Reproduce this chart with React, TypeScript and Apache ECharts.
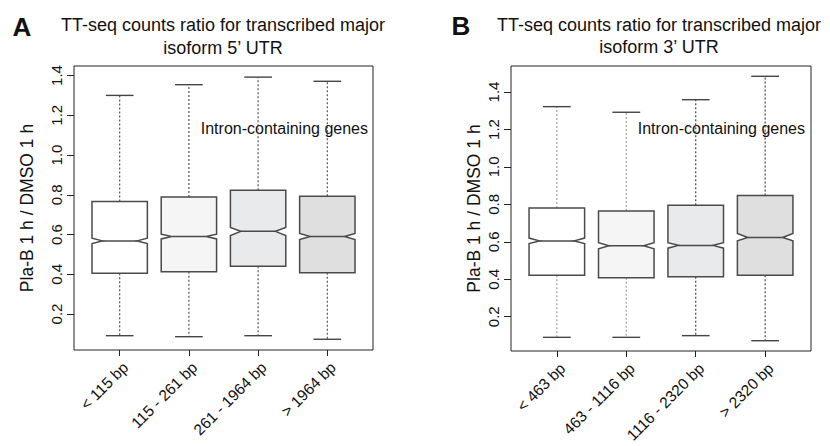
import React, { useEffect, useRef } from "react";
import * as echarts from "echarts";

// Panel A: 5' UTR length classes
const catsA = ["< 115 bp", "115 - 261 bp", "261 - 1964 bp", "> 1964 bp"];
const lowA = [0.091, 0.086, 0.091, 0.073];
const q1A = [0.405, 0.413, 0.441, 0.408];
const notchLoA = [0.555, 0.578, 0.595, 0.575];
const medA = [0.568, 0.59, 0.616, 0.59];
const notchHiA = [0.582, 0.602, 0.636, 0.605];
const q3A = [0.766, 0.789, 0.823, 0.793];
const highA = [1.3, 1.354, 1.392, 1.371];

// Panel B: 3' UTR length classes
const catsB = ["< 463 bp", "463 - 1116 bp", "1116 - 2320 bp", "> 2320 bp"];
const lowB = [0.09, 0.09, 0.099, 0.072];
const q1B = [0.421, 0.408, 0.413, 0.421];
const notchLoB = [0.591, 0.563, 0.566, 0.605];
const medB = [0.605, 0.579, 0.581, 0.623];
const notchHiB = [0.62, 0.595, 0.595, 0.645];
const q3B = [0.781, 0.764, 0.796, 0.847];
const highB = [1.322, 1.292, 1.359, 1.484];

const yTicks = [0.2, 0.4, 0.6, 0.8, 1.0, 1.2, 1.4];
const xTicks = [1, 2, 3, 4];

const titleA = ["TT-seq counts ratio for transcribed major", "isoform 5\u2019 UTR"];
const titleB = ["TT-seq counts ratio for transcribed major", "isoform 3\u2019 UTR"];
const yName = "Pla-B 1 h / DMSO 1 h";
const note = "Intron-containing genes";

// styles
const fills = ["#ffffff", "#f4f5f4", "#e9eaeb", "#dedfde"];
const whiskerColA = ["#555555", "#555555", "#555555", "#555555"];
const whiskerColB = ["#a0a0a0", "#a0a0a0", "#444444", "#444444"];
const FONT = "Liberation Sans, Arial, Helvetica, sans-serif";

function buildRows(low: number[], q1: number[], nlo: number[], med: number[], nhi: number[], q3: number[], high: number[]) {
  return low.map((_, i) => [i + 1, low[i], q1[i], nlo[i], med[i], nhi[i], q3[i], high[i]]);
}

function makeRender(whiskerCols: string[]) {
  return (params: any, api: any) => {
    const x = api.value(0);
    const low = api.value(1), q1 = api.value(2), nlo = api.value(3), med = api.value(4);
    const nhi = api.value(5), q3 = api.value(6), high = api.value(7);
    const hw = 0.4, inset = 0.15, cap = 0.2;
    const P = (xx: number, yy: number) => api.coord([xx, yy]);
    const i = params.dataIndex;
    const stroke = "#4a4a4a";
    const wc = whiskerCols[i];
    const xc = P(x, 0)[0];
    const line = (a: number[], b: number[], style: any) => ({
      type: "line",
      shape: { x1: a[0], y1: a[1], x2: b[0], y2: b[1] },
      style,
    });
    const dotted = { stroke: wc, lineWidth: 1.2, lineDash: [2, 2] };
    const capStyle = { stroke: "#444444", lineWidth: 1.4 };
    const pts = [
      P(x - hw, q3), P(x + hw, q3), P(x + hw, nhi), P(x + hw - inset, med), P(x + hw, nlo),
      P(x + hw, q1), P(x - hw, q1), P(x - hw, nlo), P(x - hw + inset, med), P(x - hw, nhi),
    ];
    return {
      type: "group",
      children: [
        line([xc, P(x, q3)[1]], [xc, P(x, high)[1]], dotted),
        line([xc, P(x, q1)[1]], [xc, P(x, low)[1]], dotted),
        line(P(x - cap, high), P(x + cap, high), capStyle),
        line(P(x - cap, low), P(x + cap, low), capStyle),
        { type: "polygon", shape: { points: pts }, style: { fill: fills[i], stroke, lineWidth: 1.5 } },
        line(P(x - hw + inset, med), P(x + hw - inset, med), { stroke, lineWidth: 1.5 }),
      ],
    };
  };
}

export default function App() {
  const ref = useRef<HTMLDivElement>(null);
  useEffect(() => {
    if (!ref.current) return;
    const chart = echarts.init(ref.current, undefined, { renderer: "svg" });
    const rowsA = buildRows(lowA, q1A, notchLoA, medA, notchHiA, q3A, highA);
    const rowsB = buildRows(lowB, q1B, notchLoB, medB, notchHiB, q3B, highB);
    const xAxisBase = (cats: string[], gi: number) => ({
      type: "value",
      gridIndex: gi,
      min: 0.34,
      max: 4.66,
      splitLine: { show: false },
      axisLine: { show: false },
      axisTick: { show: true, length: 6, customValues: xTicks, lineStyle: { color: "#222", width: 1 } },
      axisLabel: {
        customValues: xTicks,
        rotate: 45,
        margin: 9,
        fontSize: 15.5,
        fontFamily: FONT,
        color: "#111",
        verticalAlign: "top",
        formatter: (v: number) => cats[Math.round(v) - 1] ?? "",
      },
    });
    const yAxisBase = (gi: number, min: number, max: number, gap: number) => ({
      type: "value",
      gridIndex: gi,
      min,
      max,
      splitLine: { show: false },
      axisLine: { show: false },
      axisTick: { show: true, length: 7, customValues: yTicks, lineStyle: { color: "#222", width: 1 } },
      axisLabel: {
        customValues: yTicks,
        rotate: 90,
        margin: 10,
        fontSize: 15,
        fontFamily: FONT,
        color: "#111",
        formatter: (v: number) => v.toFixed(1),
      },
      name: yName,
      nameLocation: "middle",
      nameRotate: 90,
      nameGap: gap,
      nameTextStyle: { fontSize: 17.5, fontFamily: FONT, color: "#111" },
    });
    const txt = (text: string, x: number, y: number, size: number, align: string, weight = "normal") => ({
      type: "text",
      x,
      y,
      style: {
        text,
        fontSize: size,
        fontFamily: FONT,
        fontWeight: weight,
        fill: "#111",
        textAlign: align,
        textVerticalAlign: "middle",
      },
    });
    chart.setOption({
      animation: false,
      backgroundColor: "#ffffff",
      grid: [
        { left: 74, top: 66, width: 299, height: 284, show: true, borderColor: "#222", borderWidth: 1, backgroundColor: "transparent" },
        { left: 511, top: 66, width: 300, height: 285, show: true, borderColor: "#222", borderWidth: 1, backgroundColor: "transparent" },
      ],
      xAxis: [xAxisBase(catsA, 0), xAxisBase(catsB, 1)],
      yAxis: [yAxisBase(0, 0.019, 1.448, 38), yAxisBase(1, 0.017, 1.539, 28)],
      series: [
        {
          type: "custom",
          xAxisIndex: 0,
          yAxisIndex: 0,
          data: rowsA,
          encode: { x: 0, y: [1, 2, 3, 4, 5, 6, 7] },
          renderItem: makeRender(whiskerColA),
          clip: false,
        },
        {
          type: "custom",
          xAxisIndex: 1,
          yAxisIndex: 1,
          data: rowsB,
          encode: { x: 0, y: [1, 2, 3, 4, 5, 6, 7] },
          renderItem: makeRender(whiskerColB),
          clip: false,
        },
      ],
      graphic: [
        txt("A", 22, 27, 26, "center", "bold"),
        txt("B", 461, 26, 26, "center", "bold"),
        txt(titleA[0], 223, 25, 18, "center"),
        txt(titleA[1], 223, 48, 18, "center"),
        txt(titleB[0], 659, 25, 18, "center"),
        txt(titleB[1], 659, 47, 18, "center"),
        txt(note, 368, 128, 16, "right"),
        txt(note, 805, 128, 16, "right"),
      ],
    });
    return () => chart.dispose();
  }, []);
  return <div ref={ref} style={{ position: "fixed", left: 0, top: 0, width: 830, height: 446 }} />;
}
